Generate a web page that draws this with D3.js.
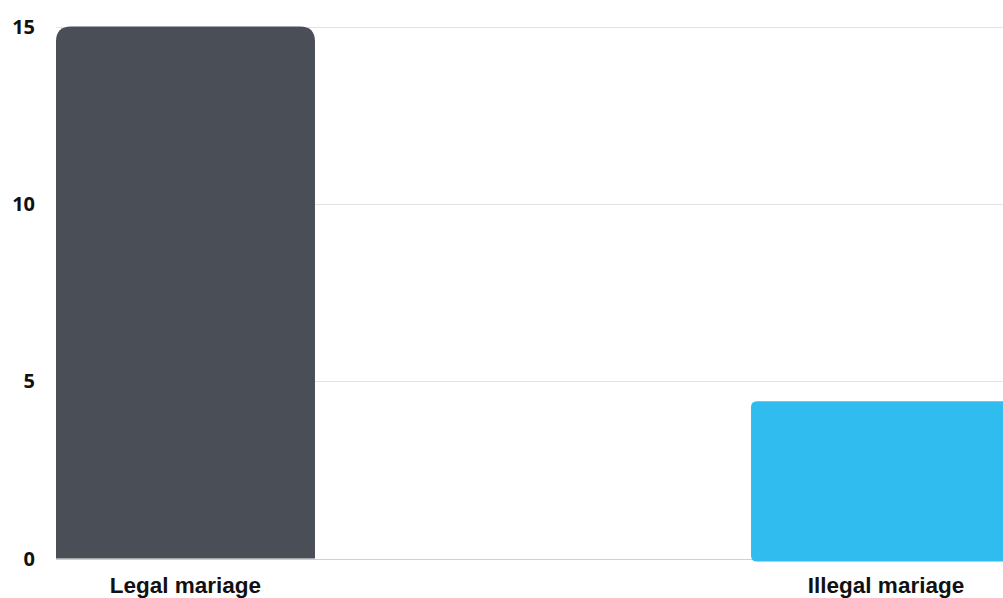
<!DOCTYPE html>
<html>
<head>
<meta charset="utf-8">
<script src="https://cdn.jsdelivr.net/npm/d3@7"></script>
<style>
  html, body { margin: 0; padding: 0; background: #fff; overflow: hidden; }
  svg { display: block; }
</style>
</head>
<body>
<svg id="chart" width="1003" height="598"></svg>
<script>
// Chart data
const categories = ["Legal mariage", "Illegal mariage"];
const values = [15, 4.35];
const barColors = ["#4a4f57", "#31bcf0"];
const yTicks = [0, 5, 10, 15];
const highlighted = 1; // index of the bar drawn in its emphasised state

const W = 1003, H = 598;
const svg = d3.select("#chart");

const y = d3.scaleLinear().domain([0, 15]).range([558.5, 26.5]);
const x = d3.scaleBand()
  .domain(categories)
  .range([56, 1015.5])
  .paddingInner(0.6303)
  .paddingOuter(0);

// Horizontal gridlines
svg.append("g")
  .selectAll("line")
  .data(yTicks)
  .join("line")
  .attr("x1", 56)
  .attr("x2", W)
  .attr("y1", d => Math.round(y(d)) + 0.5)
  .attr("y2", d => Math.round(y(d)) + 0.5)
  .attr("stroke", d => d === 0 ? "#cfcfcf" : "#e3e3e3")
  .attr("stroke-width", 1);

// Path for a bar with rounded top corners and optional rounded bottom corners
function barPath(x0, y0, w, h, rTop, rBottom) {
  const x1 = x0 + w, y1 = y0 + h;
  return `M${x0},${y0 + rTop}
    Q${x0},${y0} ${x0 + rTop},${y0}
    L${x1 - rTop},${y0}
    Q${x1},${y0} ${x1},${y0 + rTop}
    L${x1},${y1 - rBottom}
    Q${x1},${y1} ${x1 - rBottom},${y1}
    L${x0 + rBottom},${y1}
    Q${x0},${y1} ${x0},${y1 - rBottom}
    Z`;
}

const grow = { dx: 5.5, dy: 3 };

svg.append("g")
  .selectAll("path")
  .data(categories.map((c, i) => ({ c, v: values[i], i })))
  .join("path")
  .attr("fill", d => barColors[d.i])
  .attr("d", d => {
    let x0 = x(d.c), w = x.bandwidth();
    let y0 = y(d.v), h = y(0) - y(d.v);
    if (d.i === highlighted) {
      x0 -= grow.dx; w += 2 * grow.dx;
      y0 -= grow.dy; h += 2 * grow.dy;
      return barPath(x0, y0, w, h, 6, 6);
    }
    return barPath(x0, y0, w, h, 15, 0);
  });

// Y-axis tick labels
svg.append("g")
  .selectAll("text")
  .data(yTicks)
  .join("text")
  .attr("x", 35)
  .attr("y", d => y(d))
  .attr("dy", "0.36em")
  .attr("text-anchor", "end")
  .attr("font-family", "'Open Sans', sans-serif")
  .attr("font-weight", 700)
  .attr("font-size", 20)
  .attr("fill", "#111")
  .text(d => d);

// Category labels
svg.append("g")
  .selectAll("text")
  .data(categories)
  .join("text")
  .attr("x", d => x(d) + x.bandwidth() / 2)
  .attr("y", 593)
  .attr("text-anchor", "middle")
  .attr("font-family", "'Liberation Sans', Arial, sans-serif")
  .attr("font-weight", 700)
  .attr("font-size", 22.5)
  .attr("fill", "#111")
  .text(d => d);
</script>
</body>
</html>
